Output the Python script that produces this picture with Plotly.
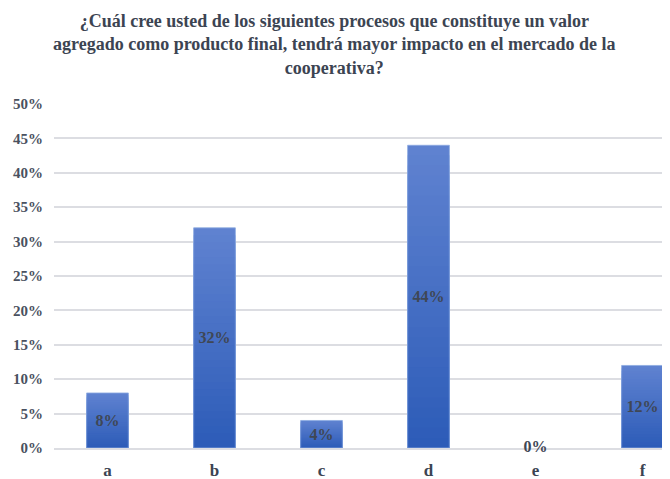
import plotly.graph_objects as go

categories = ["a", "b", "c", "d", "e", "f"]
values = [0.08, 0.32, 0.04, 0.44, 0.00, 0.12]
tick_vals = [0, 0.05, 0.10, 0.15, 0.20, 0.25, 0.30, 0.35, 0.40, 0.45, 0.50]
tick_text = ["0%", "5%", "10%", "15%", "20%", "25%", "30%", "35%", "40%", "45%", "50%"]
title = ("¿Cuál cree usted de los siguientes procesos que constituye un valor<br>"
         "agregado como producto final, tendrá mayor impacto en el mercado de la<br>"
         "cooperativa?")

SERIF = "Liberation Serif"

fig = go.Figure()

# gradient approximation: overlaid bars of decreasing height, darker toward bottom
n = 30
top = (95, 130, 208)
bot = (45, 92, 184)
for i in range(n):
    frac = 1 - i / n
    t = i / (n - 1)
    c = tuple(round(top[k] + (bot[k] - top[k]) * t) for k in range(3))
    fig.add_trace(go.Bar(
        x=categories, y=[v * frac for v in values],
        marker=dict(color="rgb(%d,%d,%d)" % c, line=dict(width=0)),
        width=0.39, hoverinfo="skip", showlegend=False,
    ))

labels = [f"<b>{round(v*100)}%</b>" for v in values]
fig.add_trace(go.Bar(
    x=categories, y=values,
    marker=dict(color="rgba(0,0,0,0)",
                line=dict(color="rgba(140,170,225,0.8)",
                          width=[1 if v > 0 else 0 for v in values])),
    width=0.39,
    text=[l if v > 0 else "" for l, v in zip(labels, values)],
    textposition="inside",
    insidetextanchor="middle",
    textfont=dict(family=SERIF, size=16, color="#3f4755"),
    cliponaxis=False,
    showlegend=False,
))
# zero-valued labels sit on the axis
zx = [c for c, v in zip(categories, values) if v == 0]
zy = [v for v in values if v == 0]
zt = [l for l, v in zip(labels, values) if v == 0]
fig.add_trace(go.Scatter(
    x=zx, y=zy, text=zt, mode="text", textposition="middle center",
    textfont=dict(family=SERIF, size=16, color="#3f4755"),
    cliponaxis=False, showlegend=False, hoverinfo="skip",
))

# page body adds an 8px offset; figure size and margins compensate for it
fig.update_layout(
    barmode="overlay",
    width=662, height=471,
    margin=dict(l=46, r=0, t=96, b=31),
    paper_bgcolor="white", plot_bgcolor="white",
    annotations=[dict(
        text="<b>" + title + "</b>", xref="paper", yref="paper",
        x=0.456, y=1, xanchor="center", yanchor="bottom", yshift=24, showarrow=False,
        align="center",
        font=dict(family=SERIF, size=18, color="#3c4452"),
    )],
)
fig.update_yaxes(
    range=[0, 0.5], tickvals=tick_vals, ticktext=["<b>%s</b>" % t for t in tick_text],
    showgrid=True, gridcolor="#dcdde2", gridwidth=1.5, zeroline=False,
    tickfont=dict(family=SERIF, size=15, color="#4a5160"),
    ticklen=0, ticklabelstandoff=10, automargin=False, layer="below traces",
)
fig.update_xaxes(
    range=[-0.5, 5.257], tickvals=categories, ticktext=["<b>%s</b>" % c for c in categories],
    tickfont=dict(family=SERIF, size=17, color="#3c4452"),
    showline=True, linecolor="#dcdde2", linewidth=1.5, ticks="", ticklabelstandoff=6,
    automargin=False, layer="below traces",
)
fig.write_html("out.html")
